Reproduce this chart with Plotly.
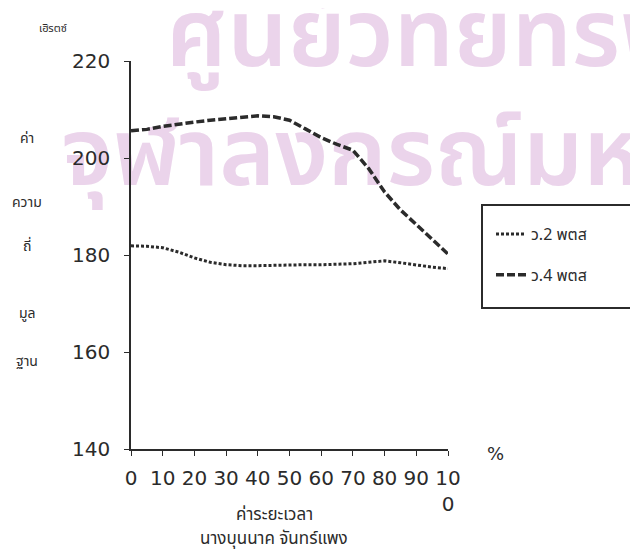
import plotly.graph_objects as go

# Data
duration_pct = [0, 5, 10, 15, 20, 25, 30, 35, 40, 45, 50, 55, 60, 65, 70, 75, 80, 85, 90, 95, 100]
w2_pts = [181.9, 181.8, 181.5, 180.6, 179.4, 178.5, 178.0, 177.8, 177.8, 177.9, 178.0, 178.0, 178.0, 178.1, 178.2, 178.5, 178.8, 178.4, 177.9, 177.5, 177.2]
w4_pts = [205.6, 205.9, 206.5, 207.0, 207.4, 207.8, 208.1, 208.4, 208.7, 208.5, 207.8, 206.0, 204.2, 202.8, 201.6, 197.8, 193.0, 189.3, 186.3, 183.3, 180.2]
series_names = ["ว.2 พตส", "ว.4 พตส"]
x_tick_vals = [0, 10, 20, 30, 40, 50, 60, 70, 80, 90, 100]
x_tick_text = ["0", "10", "20", "30", "40", "50", "60", "70", "80", "90", "10<br>0"]
y_tick_vals = [140, 160, 180, 200, 220]
watermark_lines = ["ศูนย์วิทยทรัพยากร", "จุฬาลงกรณ์มหาวิทยาลัย"]

NUM_FONT = "DejaVu Sans"
THAI_FONT = "Noto Sans Thai, Noto Sans, DejaVu Sans, sans-serif"
INK = "#2b2b2b"

# page body has an 8px margin; plot area sits at screen x 131..448, y 61..449
OFF = 8
PL, PT, PW, PH = 131, 61, 317, 388
W, H = 638 - OFF, 551 - OFF

def px(x):
    return (x - PL) / PW

def py(y):
    return (PT + PH - y) / PH

fig = go.Figure()
fig.add_trace(go.Scatter(
    x=duration_pct, y=w2_pts, mode="lines", name=series_names[0],
    line=dict(color=INK, width=3, dash="3px,2px"), legendgroup="a", cliponaxis=False))
fig.add_trace(go.Scatter(
    x=duration_pct, y=w4_pts, mode="lines", name=series_names[1],
    line=dict(color=INK, width=3.5, dash="8px,3px"), legendgroup="b", cliponaxis=False))

# background watermark: invisible shapes below the curves carrying the text as labels
for text, x_left, y_mid in zip(watermark_lines, [163, 58], [43, 162]):
    fig.add_shape(type="rect", xref="paper", yref="paper", layer="below",
                  x0=px(x_left), x1=px(x_left + 1200), y0=py(y_mid + 30), y1=py(y_mid - 30),
                  line=dict(width=0), fillcolor="rgba(0,0,0,0)",
                  label=dict(text=text, textposition="middle left", padding=0,
                             font=dict(family=THAI_FONT, size=95, weight=600, color="#ebd4eb")))

def label(text, x, y, size, family=THAI_FONT):
    fig.add_annotation(text=text, x=px(x), y=py(y), xref="paper", yref="paper", showarrow=False,
                       xanchor="center", yanchor="middle", font=dict(family=family, size=size, color=INK))

label("เฮิรตซ์", 53, 28, 11)
for word, yy in zip(["ค่า", "ความ", "ถี่", "มูล", "ฐาน"], [138, 202, 247, 313, 361]):
    label(word, 27, yy, 14)
label("%", 495, 453, 18, NUM_FONT)
label("ค่าระยะเวลา", 274, 515, 17)
label("นางบุนนาค จันทร์แพง", 274, 539, 17)

# legend box
fig.add_shape(type="rect", xref="paper", yref="paper", x0=px(482), x1=px(720), y0=py(308), y1=py(205),
              line=dict(color=INK, width=2))

fig.update_layout(
    width=W, height=H,
    margin=dict(l=PL - OFF, r=W - (PL - OFF) - PW, t=PT - OFF, b=H - (PT - OFF) - PH),
    paper_bgcolor="white", plot_bgcolor="rgba(0,0,0,0)",
    showlegend=True,
    legend=dict(x=px(491), y=py(217), xanchor="left", yanchor="top", bgcolor="rgba(0,0,0,0)",
                borderwidth=0, font=dict(family=THAI_FONT, size=16, color=INK),
                tracegroupgap=17, itemwidth=30),
    xaxis=dict(range=[0, 100], tickvals=x_tick_vals, ticktext=x_tick_text, showgrid=False, zeroline=False,
               showline=True, linecolor=INK, linewidth=1.5, ticks="outside", ticklen=5, tickcolor=INK,
               tickfont=dict(family=NUM_FONT, size=20, color=INK), ticklabelstandoff=5),
    yaxis=dict(range=[140, 220], tickvals=y_tick_vals, showgrid=False, zeroline=False,
               showline=True, linecolor=INK, linewidth=1.5, ticks="outside", ticklen=5, tickcolor=INK,
               tickfont=dict(family=NUM_FONT, size=20, color=INK), ticklabelstandoff=10),
)

fig.write_html("out.html")
